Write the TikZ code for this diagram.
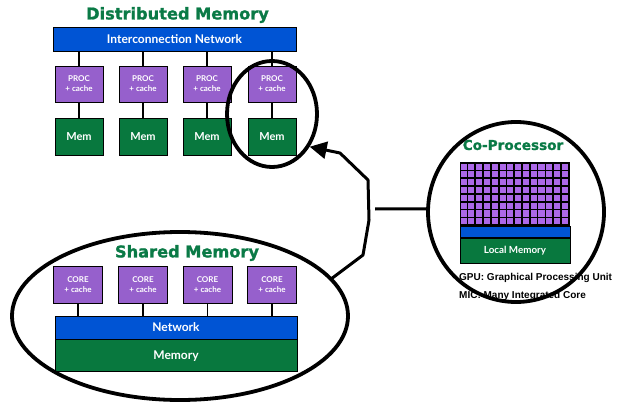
\documentclass[tikz,border=0pt]{standalone}
\usepackage{fontspec}
\usetikzlibrary{shapes.geometric,arrows.meta}
\newfontfamily\titlefont{DejaVu Sans}[BoldFeatures={FakeBold=1.3}]
\newfontfamily\labelfont{Lato}
\newfontfamily\notefont{Liberation Sans}

\definecolor{netblue}{RGB}{0,84,212}
\definecolor{procpurple}{RGB}{150,96,204}
\definecolor{cellpurple}{RGB}{172,104,232}
\definecolor{memgreen}{RGB}{8,120,62}
\definecolor{titlegreen}{RGB}{10,122,70}

\tikzset{
  unit/.style={draw=black, line width=0.9pt, inner sep=0pt, text=white},
  netbar/.style={unit, fill=netblue, font=\labelfont\bfseries\fontsize{12}{14}\selectfont},
  procbox/.style={unit, fill=procpurple, minimum width=48pt, minimum height=36pt,
    align=center, font=\labelfont\bfseries\fontsize{8}{10}\selectfont},
  membox/.style={unit, fill=memgreen, font=\labelfont\bfseries\fontsize{11}{13}\selectfont},
  heading/.style={text=titlegreen, font=\titlefont\bfseries\fontsize{16.2}{18}\selectfont},
  note/.style={anchor=west, inner sep=0pt, font=\notefont\bfseries\fontsize{10}{12}\selectfont},
  wire/.style={line width=1.8pt},
  loop/.style={draw=black, line width=3.8pt, ellipse, inner sep=0pt},
  link/.style={line width=3pt, line join=round},
}

\begin{document}
\begin{tikzpicture}[x=1pt, y=-1pt]
\useasboundingbox (0,0) rectangle (617,403);

% ---------------- distributed memory ----------------
\node[heading] (dtitle) at (177.5,15) {Distributed Memory};
\node[netbar, minimum width=243pt, minimum height=24pt] (icn) at (174.5,39) {Interconnection Network};
\foreach \x [count=\i] in {79,143,207,272} {
  \node[procbox] (p\i) at (\x,84) {PROC\\+ cache};
  \node[membox, minimum width=48pt, minimum height=37pt] (m\i) at (\x,136.5) {Mem};
  \draw[wire] (icn.south -| p\i.north) -- (p\i.north);
  \draw[wire] (p\i.south) -- (m\i.north);
}

% ---------------- shared memory ----------------
\node[heading] (stitle) at (187,253) {Shared Memory};
\node[netbar, minimum width=242pt, minimum height=23pt] (snet) at (176,327.5) {Network};
\node[membox, minimum width=242pt, minimum height=32pt, anchor=north,
  font=\labelfont\bfseries\fontsize{12}{14}\selectfont] (smem) at (snet.south) {Memory};
\foreach \x [count=\i] in {78,143,207.5,272} {
  \node[procbox, minimum width=49pt, minimum height=37pt] (c\i) at (\x,284.5) {CORE\\+ cache};
  \draw[wire] (c\i.south) -- (snet.north -| c\i.south);
}

% ---------------- co-processor ----------------
\node[heading, font=\titlefont\bfseries\fontsize{13.6}{15}\selectfont] (ctitle) at (513,145) {Co-Processor};
\fill[black] (459.5,162.5) rectangle (569.5,226);
\foreach \i in {0,...,13} {
  \foreach \j in {0,...,7} {
    \fill[cellpurple] (460.6+\i*7.786, 163.6+\j*7.8) rectangle ++(6.1,6.1);
  }
}
\node[unit, fill=netblue, minimum width=110pt, minimum height=11pt, anchor=north west] (lbar) at (459.5,226) {};
\node[membox, minimum width=110pt, minimum height=25pt, anchor=north west,
  font=\labelfont\bfseries\fontsize{9.8}{11}\selectfont] (lmem) at (lbar.south west) {Local Memory};
\node[note] (gpu) at (459,278) {GPU: Graphical Processing Unit};
\node[note] (mic) at (459,296) {MIC: Many Integrated Core};

% ---------------- hand-drawn loops and links ----------------
\node[loop, minimum width=336pt, minimum height=168pt] (sloop) at (180,316) {};
\node[loop, minimum width=90pt, minimum height=106pt] (dloop) at (272,114) {};
\node[loop, minimum width=176pt, minimum height=180pt] (cloop) at (516,212) {};

\coordinate (b1) at (363,255);
\coordinate (b2) at (369,220);
\coordinate (b3) at (368,180);
\coordinate (b4) at (340,153);
\draw[link, -{Triangle[length=17pt,width=17pt]}]
  (sloop.14) -- (b1) -- (b2) -- (b3) -- (b4) -- (dloop.-41);

\coordinate (hstart) at (375,209);
\draw[link] (hstart) -- (cloop.178);
\end{tikzpicture}
\end{document}
